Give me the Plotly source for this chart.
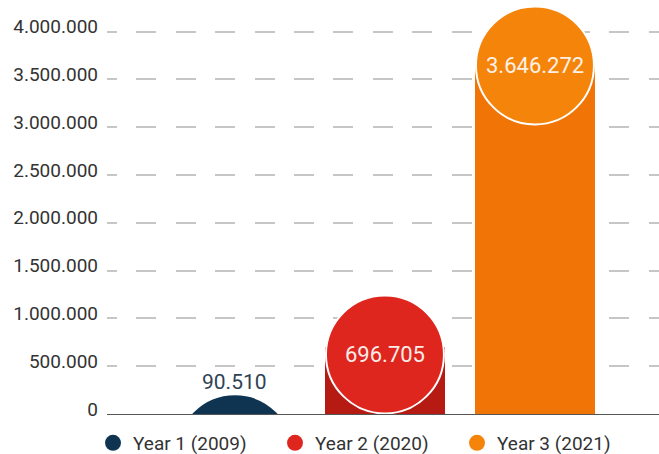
import plotly.graph_objects as go

# ---- data ----
categories = ["Year 1 (2009)", "Year 2 (2020)", "Year 3 (2021)"]
values = [90510, 696705, 3646272]
y_tick_values = [0, 500000, 1000000, 1500000, 2000000, 2500000, 3000000, 3500000, 4000000]

# ---- styles ----
circle_colors = ["#0e3452", "#de261f", "#f5840b"]
# the first bar is fully hidden behind/under its circle in the reference
bar_colors = ["rgba(14,52,82,0)", "#b51b13", "#f17506"]
label_colors = ["#2e4253", "#fbece8", "#fdf1e6"]
label_sizes = [21, 22, 22]
circle_shift_px = [-48, -7, 0]   # circle centre offset from bar top, in px
label_shift_px = [23, -7, 0]     # label offset from bar top, in px
R = 59
FONT = "Roboto"


def fmt(v):
    return f"{v:,}".replace(",", ".")


fig = go.Figure()

fig.add_trace(go.Bar(
    x=categories, y=values, width=0.8,
    marker=dict(color=bar_colors, line=dict(width=0)),
    showlegend=False, hoverinfo="skip",
))

for i, (cat, val) in enumerate(zip(categories, values)):
    fig.add_trace(go.Scatter(
        x=[cat], y=[val], mode="markers", name=cat,
        marker=dict(size=16, color=circle_colors[i]),
        cliponaxis=True, hoverinfo="skip",
    ))
    s = circle_shift_px[i]
    fig.add_shape(
        type="circle", xref="x", yref="y",
        xsizemode="pixel", ysizemode="pixel",
        xanchor=i, yanchor=val,
        x0=-R, x1=R, y0=s - R, y1=s + R,
        fillcolor=circle_colors[i],
        line=dict(color="white", width=2),
        layer="above",
    )
    fig.add_annotation(
        x=cat, y=val, text=fmt(val), showarrow=False,
        yshift=label_shift_px[i], yanchor="middle",
        font=dict(family=FONT, size=label_sizes[i], color=label_colors[i]),
    )

fig.update_layout(
    width=659, height=454,
    margin=dict(l=107, r=0, t=4, b=40, autoexpand=False),
    paper_bgcolor="white", plot_bgcolor="white",
    separators=",.",
    font=dict(family=FONT, size=19, color="#333333"),
    bargap=0,
    showlegend=True,
    legend=dict(
        orientation="h", xref="container", yref="container",
        x=93 / 659, y=11 / 454, xanchor="left", yanchor="middle",
        font=dict(family=FONT, size=19, color="#333333"),
        entrywidth=137, entrywidthmode="pixels",
        bgcolor="rgba(0,0,0,0)",
    ),
    xaxis=dict(
        type="category", range=[-0.853, 2.827], automargin=False,
        showticklabels=False, showgrid=False, zeroline=False, showline=False,
        ticks="", fixedrange=True,
    ),
    yaxis=dict(
        range=[0, 4289000], tickvals=y_tick_values, tickformat=",d",
        automargin=False,
        showgrid=True, gridcolor="#c6c6c6", gridwidth=1.6,
        griddash="10px,19.4px,10px,0px",
        zeroline=True, zerolinecolor="#555555", zerolinewidth=1,
        showline=False, ticks="", ticklabelstandoff=8, ticklabelshift=-5,
        tickfont=dict(family=FONT, size=19, color="#333333"),
        fixedrange=True,
    ),
)

fig.write_html(
    "out.html",
    config={"displayModeBar": False},
    post_script="document.body.style.margin='0';document.body.style.overflow='hidden';",
)
